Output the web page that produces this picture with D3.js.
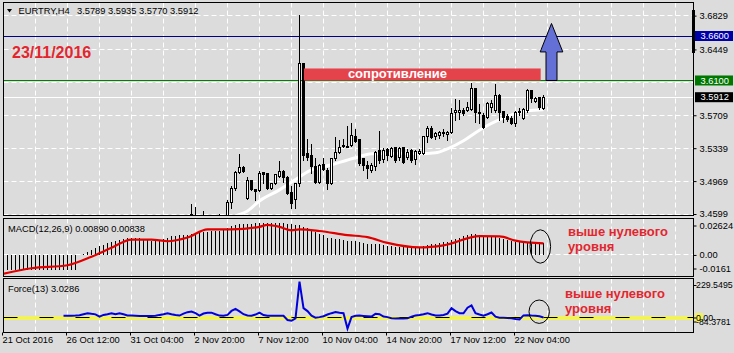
<!DOCTYPE html>
<html>
<head>
<meta charset="utf-8">
<script src="https://cdn.jsdelivr.net/npm/d3@7/dist/d3.min.js"></script>
<style>
  html, body { margin: 0; padding: 0; background: #dcdcdc; overflow: hidden; }
  svg { display: block; }
</style>
</head>
<body>
<svg id="chart" width="734" height="353"></svg>
<script>
const FONT = "'Liberation Sans', Arial, sans-serif";

// ---- data ----
const symbol = "EURTRY,H4";
const timeLabels = ["21 Oct 2016", "26 Oct 12:00", "31 Oct 04:00", "2 Nov 20:00", "7 Nov 12:00",
  "10 Nov 04:00", "14 Nov 20:00", "17 Nov 12:00", "22 Nov 04:00"];
const timeLabelBars = [0, 16, 32, 48, 64, 80, 96, 112, 128];
const gridBars = [8, 16, 24, 32, 40, 48, 56, 64, 72, 80, 88, 96, 104, 112, 120, 128, 136, 144, 152, 160, 168];

const priceGrid = [3.4599, 3.4969, 3.5339, 3.5709, 3.6079, 3.6449, 3.6829];
const priceLabels = [3.4599, 3.4969, 3.5339, 3.5709, 3.6449, 3.6829];
const targetLevel = 3.6600;
const resistanceLevel = 3.6100;

// candles, first one is bar 46
const firstCandle = 46;
const opens = [3.452, 3.4555, 3.4580, 3.455, 3.4555, 3.456, 3.454, 3.4555, 3.4576, 3.455,
  3.455, 3.4723, 3.4881, 3.5061, 3.5118, 3.4768, 3.4971, 3.4870, 3.4858, 3.5061,
  3.5050, 3.4881, 3.4937, 3.5016, 3.5073, 3.5005, 3.4836, 3.4757, 3.4937, 3.6291,
  3.5276, 3.5253, 3.5129, 3.4949, 3.5152, 3.5084, 3.4937, 3.5219, 3.5287, 3.5355,
  3.5343, 3.5366, 3.5468, 3.5434, 3.5219, 3.5140, 3.5084, 3.5129, 3.5310, 3.5208,
  3.5321, 3.5242, 3.5343, 3.5231, 3.5343, 3.5231, 3.5310, 3.5208, 3.5276, 3.5276,
  3.5468, 3.5558, 3.5468, 3.5479, 3.5501, 3.5490, 3.5513, 3.5738, 3.5738, 3.5761,
  3.5761, 3.5772, 3.6009, 3.5738, 3.5704, 3.5682, 3.5795, 3.5761, 3.5930, 3.5750,
  3.5693, 3.5671, 3.5614, 3.5738, 3.5671, 3.5761, 3.5986, 3.5862, 3.5907, 3.5789];
const highs = [3.457, 3.4712, 3.4678, 3.457, 3.4633, 3.458, 3.456, 3.4588, 3.4599, 3.4576,
  3.4757, 3.4915, 3.5084, 3.5276, 3.5140, 3.5016, 3.4983, 3.4881, 3.5084, 3.5073,
  3.5061, 3.4949, 3.5050, 3.5197, 3.5095, 3.5028, 3.4915, 3.4949, 3.6832, 3.6302,
  3.5445, 3.5389, 3.5231, 3.5163, 3.5231, 3.5118, 3.5231, 3.5468, 3.5434, 3.5445,
  3.5592, 3.5626, 3.5558, 3.5445, 3.5231, 3.5197, 3.5174, 3.5310, 3.5535, 3.5343,
  3.5343, 3.5355, 3.5355, 3.5355, 3.5355, 3.5332, 3.5332, 3.5321, 3.5332, 3.5479,
  3.5592, 3.5592, 3.5524, 3.5535, 3.5558, 3.5535, 3.5795, 3.5896, 3.5885, 3.5795,
  3.5862, 3.6077, 3.6020, 3.5840, 3.5738, 3.5862, 3.5885, 3.6065, 3.5953, 3.5761,
  3.5727, 3.5704, 3.5761, 3.5795, 3.5795, 3.6009, 3.5998, 3.5919, 3.5919, 3.5935];
const lows = [3.448, 3.450, 3.452, 3.450, 3.451, 3.452, 3.450, 3.452, 3.452, 3.451,
  3.453, 3.4655, 3.4858, 3.5050, 3.5061, 3.4757, 3.4858, 3.4746, 3.4847, 3.4937,
  3.4870, 3.4870, 3.4926, 3.5005, 3.4949, 3.4813, 3.4655, 3.4655, 3.4904, 3.5197,
  3.5197, 3.5050, 3.4937, 3.4937, 3.5084, 3.4870, 3.4926, 3.5197, 3.5276, 3.5343,
  3.5343, 3.5355, 3.5400, 3.5140, 3.5084, 3.4994, 3.5061, 3.5084, 3.5163, 3.5174,
  3.5197, 3.5231, 3.5174, 3.5197, 3.5163, 3.5208, 3.5174, 3.5152, 3.5265, 3.5265,
  3.5400, 3.5445, 3.5434, 3.5445, 3.5468, 3.5422, 3.5501, 3.5648, 3.5659, 3.5704,
  3.5750, 3.5761, 3.5626, 3.5614, 3.5558, 3.5671, 3.5738, 3.5738, 3.5648, 3.5626,
  3.5637, 3.5603, 3.5580, 3.5704, 3.5659, 3.5738, 3.5851, 3.5851, 3.5772, 3.5770];
const closes = [3.455, 3.4588, 3.4560, 3.454, 3.4576, 3.4555, 3.455, 3.4576, 3.456, 3.4565,
  3.4723, 3.4881, 3.5061, 3.5118, 3.5073, 3.4971, 3.4870, 3.4847, 3.5050, 3.5039,
  3.4881, 3.4937, 3.5039, 3.5073, 3.5005, 3.4825, 3.4712, 3.4937, 3.6291, 3.5253,
  3.5231, 3.5129, 3.4949, 3.5140, 3.5095, 3.4937, 3.5219, 3.5287, 3.5343, 3.5366,
  3.5355, 3.5479, 3.5411, 3.5163, 3.5140, 3.5107, 3.5140, 3.5287, 3.5197, 3.5310,
  3.5253, 3.5332, 3.5197, 3.5332, 3.5174, 3.5287, 3.5197, 3.5298, 3.5298, 3.5468,
  3.5558, 3.5456, 3.5501, 3.5513, 3.5513, 3.5513, 3.5727, 3.5761, 3.5761, 3.5727,
  3.5795, 3.6009, 3.5738, 3.5727, 3.5569, 3.5840, 3.5840, 3.5930, 3.5738, 3.5682,
  3.5659, 3.5614, 3.5738, 3.5750, 3.5772, 3.5986, 3.5896, 3.5896, 3.5795, 3.5912];

// white moving average under the candles: [bar, price]
const maPoints = [[55, 3.4500], [58, 3.4576], [61, 3.4633], [64, 3.4746], [69, 3.4870], [74, 3.5016],
  [76, 3.5073], [82, 3.5152], [88, 3.5231], [92, 3.5276], [100, 3.5282], [104, 3.5276],
  [108, 3.5287], [111, 3.5332], [115, 3.5422], [118, 3.5513], [120, 3.5569], [124, 3.5659],
  [128, 3.5727], [131, 3.5761], [135, 3.5772]];

// MACD(12,26,9) histogram, bars 0..135
const macdRange = [-0.0161, 0.02624];
const macdTickValues = [0.02624, 0, -0.0161];
const macdTickText = ["0.02624", "0.00", "-0.0161"];
const macdHist = [
  -0.0112, -0.0113, -0.0112, -0.0112, -0.0111, -0.0112, -0.0113, -0.0112, -0.0112, -0.0111,
  -0.0112, -0.0112, -0.0113, -0.0112, -0.0111, -0.0112, -0.0112, -0.0111, -0.0110,
  -0.0004, 0.0004, 0.0022, 0.0037, 0.0052, 0.0067, 0.0075, 0.0090, 0.0097, 0.0105,
  0.0112, 0.0120, 0.0127, 0.0127, 0.0127, 0.0127, 0.0120, 0.0112, 0.0105, 0.0105,
  0.0112, 0.0120, 0.0127, 0.0135, 0.0135, 0.0142, 0.0142, 0.0142, 0.0150, 0.0157,
  0.0165, 0.0165, 0.0165, 0.0172, 0.0172, 0.0172, 0.0180, 0.0195, 0.0210, 0.0217,
  0.0225, 0.0225, 0.0225, 0.0225, 0.0232, 0.0232, 0.0232, 0.0232, 0.0232, 0.0232,
  0.0232, 0.0232, 0.0228, 0.0225, 0.0222, 0.0215, 0.0205, 0.0195, 0.0180, 0.0165,
  0.0155, 0.0142, 0.0127, 0.0127, 0.0120, 0.0120, 0.0112, 0.0105, 0.0105, 0.0105,
  0.0097, 0.0090, 0.0082, 0.0082, 0.0082, 0.0082, 0.0075, 0.0067, 0.0067, 0.0060,
  0.0060, 0.0060, 0.0060, 0.0060, 0.0060, 0.0060, 0.0067, 0.0075, 0.0082, 0.0082,
  0.0090, 0.0097, 0.0097, 0.0112, 0.0120, 0.0127, 0.0135, 0.0142, 0.0150, 0.0150,
  0.0142, 0.0135, 0.0135, 0.0135, 0.0135, 0.0127, 0.0120, 0.0112, 0.0105, 0.0097,
  0.0097, 0.0097, 0.0097, 0.0097, 0.0090, 0.0090, 0.00890];
// signal line: [bar, value]
const macdSignal = [[0, -0.0137], [7, -0.0097], [16, -0.0075], [22, -0.0013], [27, 0.0052],
  [32, 0.0112], [37, 0.0112], [41, 0.0100], [46, 0.0127], [51, 0.0187], [57, 0.0187],
  [64, 0.0205], [66, 0.0220], [69, 0.0205], [72, 0.0180], [74, 0.0187], [79, 0.0175],
  [86, 0.0145], [91, 0.0130], [96, 0.0088], [104, 0.0055], [110, 0.0070], [119, 0.0137],
  [124, 0.0135], [128, 0.0105], [135, 0.00838]];

// Force(13), bars 15..135
const forceRange = [-84.3781, 229.5495];
const forceTickValues = [229.5495, 0, -84.3781];
const forceTickText = ["229.5495", "0.00", "-84.3781"];
const forceStart = 15;
const forceValues = [
  13, 13, 13, 14, 16, 22, 28, 24, 21, 8,
  18, 22, 28, 22, 27, 22, 15, 14, 13, 12,
  12, 12, 12, 13, 18, 22, 28, 22, 17, 14,
  25, 34, 37, 28, 14, 26, 31, 31, 22, 14,
  13, 18, 41, 53, 38, 22, 15, 13, 20, 31,
  17, 13, 13, 13, 13, 13, -12, -16, -2, 211,
  57, 40, 14, 2, 5, 10, 20, 28, 35, 30,
  28, -61, 5, 13, 14, 12, 10, 8, 25, 22,
  8, 5, -2, -3, -2, -3, -2, 8, 14, 17,
  22, 28, 20, 14, 15, 17, 25, 57, 40, 28,
  27, 60, 73, 28, 20, 13, 22, 32, 8, 2,
  1, 0, -2, -6, -8, 15, 16, 14, 13, 10, 3.0286];

// drawn objects, in bar / price units
const resistanceZone = { fromBar: 75.1, toBar: 134.3, low: 3.6100, high: 3.6235 };
const arrow = { bar: 137, base: 3.6100, headBase: 3.6421, tip: 3.6741 };

// ---- layout ----
const svg = d3.select("#chart");
const panels = {
  main: { top: 2.5, bottom: 215.5 },
  macd: { top: 218.5, bottom: 276.5 },
  force: { top: 278.5, bottom: 332.5 }
};
const plotLeft = 3.5, plotRight = 693.5;

const x = d3.scaleLinear().domain([0, 1]).range([3.5, 7.5]);
const yMain = d3.scaleLinear().domain([3.4599, targetLevel]).range([214, 36]);
const yMacd = d3.scaleLinear().domain(macdRange).range([277, 219]);
const yForce = d3.scaleLinear().domain(forceRange).range([332.5, 278.5]);
const crisp = v => Math.floor(v) + 0.5;
const f4 = d3.format(".4f"), f5 = d3.format(".5f");

svg.append("rect").attr("width", 734).attr("height", 353).attr("fill", "#dcdcdc");

const defs = svg.append("defs");
Object.entries(panels).forEach(([name, p]) => {
  defs.append("clipPath").attr("id", "clip-" + name)
    .append("rect")
    .attr("x", plotLeft + 0.5).attr("y", p.top + 0.5)
    .attr("width", plotRight - plotLeft - 1).attr("height", p.bottom - p.top - 1);
});

function panelGroup(name) {
  const p = panels[name];
  const g = svg.append("g").attr("clip-path", `url(#clip-${name})`);
  g.append("g").selectAll("line")
    .data(gridBars)
    .join("line")
    .attr("x1", d => x(d)).attr("x2", d => x(d))
    .attr("y1", p.top).attr("y2", p.bottom)
    .attr("stroke", "#fff")
    .attr("stroke-dasharray", "5,3");
  return g;
}

// ---- main price panel ----
const main = panelGroup("main");

main.append("g").selectAll("line")
  .data(priceGrid)
  .join("line")
  .attr("x1", plotLeft).attr("x2", plotRight)
  .attr("y1", d => crisp(yMain(d))).attr("y2", d => crisp(yMain(d)))
  .attr("stroke", "#fff")
  .attr("stroke-dasharray", "5,3");

const lastClose = closes[closes.length - 1];
[[targetLevel, "#00008c"], [resistanceLevel, "#008000"], [lastClose, "#ffffff"]].forEach(([v, c]) => {
  main.append("line")
    .attr("x1", plotLeft).attr("x2", plotRight)
    .attr("y1", crisp(yMain(v))).attr("y2", crisp(yMain(v)))
    .attr("stroke", c);
});

main.append("path")
  .datum(maPoints)
  .attr("fill", "none")
  .attr("stroke", "#fff")
  .attr("stroke-width", 3)
  .attr("stroke-linejoin", "round")
  .attr("d", d3.line().x(d => x(d[0])).y(d => yMain(d[1])).curve(d3.curveMonotoneX));

const candles = opens.map((o, k) => ({ i: firstCandle + k, o, h: highs[k], l: lows[k], c: closes[k] }));
const cg = main.append("g").attr("shape-rendering", "crispEdges");
cg.selectAll("line")
  .data(candles)
  .join("line")
  .attr("x1", d => x(d.i)).attr("x2", d => x(d.i))
  .attr("y1", d => yMain(d.h)).attr("y2", d => yMain(d.l))
  .attr("stroke", "#000");
cg.selectAll("rect")
  .data(candles)
  .join("rect")
  .attr("x", d => x(d.i) - 1)
  .attr("width", 2)
  .attr("y", d => crisp(yMain(Math.max(d.o, d.c))))
  .attr("height", d => Math.max(1, Math.floor(yMain(Math.min(d.o, d.c))) - Math.floor(yMain(Math.max(d.o, d.c)))))
  .attr("fill", d => d.c >= d.o ? "#fff" : "#000")
  .attr("stroke", "#000");

// resistance box
const rz = resistanceZone;
main.append("rect")
  .attr("x", x(rz.fromBar)).attr("y", yMain(rz.high))
  .attr("width", x(rz.toBar) - x(rz.fromBar))
  .attr("height", yMain(rz.low) - yMain(rz.high))
  .attr("fill", "#e5434b");
main.append("text")
  .attr("x", x(rz.fromBar) + 44).attr("y", yMain(rz.low) - 2.5)
  .attr("fill", "#fff")
  .style("font", `bold 13px ${FONT}`)
  .text("сопротивление");

// arrow up
const ax = x(arrow.bar), yTip = yMain(arrow.tip), yHead = yMain(arrow.headBase), yBase = yMain(arrow.base);
main.append("path")
  .attr("d", `M${ax},${yTip} L${ax + 11.3},${yHead} L${ax + 5.5},${yHead} L${ax + 5.5},${yBase}
    L${ax - 5.5},${yBase} L${ax - 5.5},${yHead} L${ax - 11.3},${yHead} Z`)
  .attr("fill", "#6470d6")
  .attr("stroke", "#000")
  .attr("stroke-width", 1);

main.append("text")
  .attr("x", 12).attr("y", 57.5)
  .attr("fill", "#e3262e")
  .style("font", `bold 16px ${FONT}`)
  .text("23/11/2016");

// header
svg.append("path").attr("d", "M7,9 L12,9 L9.5,12.5 Z").attr("fill", "#000");
svg.append("text").attr("x", 18.5).attr("y", 14)
  .style("font", `9.3px ${FONT}`).text(symbol);
const last = candles[candles.length - 1];
svg.append("text").attr("x", 77).attr("y", 14)
  .style("font", `9.3px ${FONT}`)
  .text(`${f4(last.o)} ${f4(last.h)} ${f4(last.l)} ${f4(last.c)}`);

// ---- MACD panel ----
const macd = panelGroup("macd");
macd.append("line")
  .attr("x1", plotLeft).attr("x2", plotRight)
  .attr("y1", crisp(yMacd(0))).attr("y2", crisp(yMacd(0)))
  .attr("stroke", "#fff").attr("stroke-dasharray", "5,3");
macd.append("g").attr("shape-rendering", "crispEdges")
  .selectAll("line")
  .data(macdHist)
  .join("line")
  .attr("x1", (d, i) => x(i)).attr("x2", (d, i) => x(i))
  .attr("y1", yMacd(0)).attr("y2", d => yMacd(d))
  .attr("stroke", "#000");
macd.append("path")
  .datum(macdSignal)
  .attr("fill", "none")
  .attr("stroke", "#e00000")
  .attr("stroke-width", 2.2)
  .attr("d", d3.line().x(d => x(d[0])).y(d => yMacd(d[1])).curve(d3.curveMonotoneX));
macd.append("ellipse")
  .attr("cx", 540.3).attr("cy", 246.5).attr("rx", 10.3).attr("ry", 16.7)
  .attr("fill", "none").attr("stroke", "#000");
svg.append("text").attr("x", 8).attr("y", 232)
  .style("font", `9.3px ${FONT}`)
  .text(`MACD(12,26,9) ${f5(macdHist[macdHist.length - 1])} ${f5(macdSignal[macdSignal.length - 1][1])}`);

// ---- Force panel ----
const force = panelGroup("force");
force.append("line")
  .attr("x1", plotLeft).attr("x2", 703)
  .attr("y1", yForce(0)).attr("y2", yForce(0))
  .attr("stroke", "#f2f25a").attr("stroke-width", 4);
force.append("line")
  .attr("x1", plotLeft).attr("x2", plotRight)
  .attr("y1", crisp(yForce(0))).attr("y2", crisp(yForce(0)))
  .attr("stroke", "#000").attr("stroke-dasharray", "14,22");
force.append("path")
  .datum(forceValues)
  .attr("fill", "none")
  .attr("stroke", "#0000dc")
  .attr("stroke-width", 2)
  .attr("d", d3.line().x((d, k) => x(forceStart + k)).y(d => yForce(d)));
force.append("ellipse")
  .attr("cx", 539.2).attr("cy", 311.7).attr("rx", 10.2).attr("ry", 11.7)
  .attr("fill", "none").attr("stroke", "#000");
svg.append("text").attr("x", 8).attr("y", 291.5)
  .style("font", `9.3px ${FONT}`)
  .text(`Force(13) ${f4(forceValues[forceValues.length - 1])}`);

// red notes
[[568, 236, 251], [565, 297.5, 313]].forEach(([tx, y1, y2]) => {
  const t = svg.append("text").attr("fill", "#e3262e").style("font", `bold 13px ${FONT}`);
  t.append("tspan").attr("x", tx).attr("y", y1).text("выше нулевого");
  t.append("tspan").attr("x", tx).attr("y", y2).text("уровня");
});

// ---- frames ----
Object.values(panels).forEach(p => {
  svg.append("rect")
    .attr("x", plotLeft).attr("y", p.top)
    .attr("width", plotRight - plotLeft).attr("height", p.bottom - p.top)
    .attr("fill", "none").attr("stroke", "#000");
});

// ---- axes ----
function styleAxis(g, size) {
  g.attr("font-family", FONT).attr("font-size", size || 9.3);
  g.select(".domain").remove();
  g.selectAll(".tick line").attr("stroke", "#000");
  g.selectAll(".tick text").attr("fill", "#000");
}

const priceAxis = svg.append("g")
  .attr("transform", `translate(${plotRight},0)`)
  .call(d3.axisRight(yMain).tickValues(priceLabels).tickSize(3).tickFormat(f4));
styleAxis(priceAxis);
priceAxis.selectAll(".tick text").attr("x", 6);

// price boxes on the scale
svg.append("rect").attr("x", 692).attr("y", 10).attr("width", 3).attr("height", 43).attr("fill", "#000");
[[targetLevel, "#0000a8"], [resistanceLevel, "#007800"], [lastClose, "#000"]].forEach(([v, c]) => {
  const yy = yMain(v);
  svg.append("rect").attr("x", 695).attr("y", yy - 5).attr("width", 38).attr("height", 10).attr("fill", c);
  svg.append("text").attr("x", 700.5).attr("y", yy).attr("dy", "0.34em")
    .attr("fill", "#fff").style("font", `9.3px ${FONT}`).text(f4(v));
});

function subAxis(scale, values, texts, shifts, textX, size) {
  const g = svg.append("g")
    .attr("transform", `translate(${plotRight},0)`)
    .call(d3.axisRight(scale).tickValues(values).tickSize(3).tickFormat((d, k) => texts[k]));
  styleAxis(g, size);
  g.selectAll(".tick")
    .attr("transform", (d, k) => `translate(0,${scale(d) + shifts[k]})`);
  g.selectAll(".tick text").attr("x", textX);
  return g;
}
subAxis(yMacd, macdTickValues, macdTickText, [7, 0.5, -8], 6, 9.3);
svg.append("rect").attr("x", 695).attr("y", yForce(0) - 5).attr("width", 8).attr("height", 9).attr("fill", "#f2f25a");
subAxis(yForce, forceTickValues, forceTickText, [7, 0, -10.5], 2.5, 8.8);

// time axis
const timeAxis = svg.append("g")
  .attr("transform", `translate(-1.5,${panels.force.bottom})`)
  .call(d3.axisBottom(x).tickValues(timeLabelBars).tickSize(3).tickFormat((d, k) => timeLabels[k]));
styleAxis(timeAxis);
timeAxis.selectAll(".tick text")
  .attr("text-anchor", "start")
  .attr("x", 0)
  .attr("y", 4.3);
</script>
</body>
</html>
